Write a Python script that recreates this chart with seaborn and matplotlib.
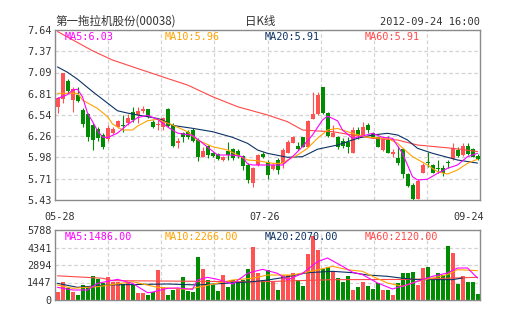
import numpy as np
import pandas as pd
import matplotlib
matplotlib.use("Agg")
import matplotlib.pyplot as plt
import matplotlib.transforms as mtransforms
import seaborn as sns

# ---------------- data ----------------
x_labels = ["05-28", "07-26", "09-24"]
x_label_pos = [0, 42, 84]

price_tick_labels = ["5.43", "5.71", "5.98", "6.26", "6.54", "6.81", "7.09", "7.37", "7.64"]
vol_tick_labels = ["0", "1447", "2894", "4341", "5788"]

opens = [6.635, 6.739, 6.977, 6.730, 6.795, 6.600, 6.548, 6.405, 6.349, 6.275,
         6.219, 6.305, 6.375, 6.405, 6.427, 6.578, 6.535, 6.587, 6.609, 6.448,
         6.405, 6.375, 6.609, 6.405, 6.167, 6.297, 6.318, 6.340, 6.210, 5.993,
         6.132, 6.045, 6.028, 5.950, 6.071, 6.089, 6.071, 6.002, 5.885, 5.655,
         5.885, 6.028, 5.928, 5.829, 5.950, 5.907, 6.045, 6.175, 6.132, 6.245,
         6.123, 6.487, 6.548, 6.895, 6.565, 6.253, 6.245, 6.201, 6.188, 6.045,
         6.340, 6.275, 6.405, 6.305, 6.245, 6.080, 6.210, 6.028, 5.972, 6.089,
         5.768, 5.625, 5.443, 5.785, 5.928, 5.885, 5.842, 5.842, 5.928, 5.959,
         6.080, 6.015, 6.132, 6.089, 6.002]
closes = [6.752, 7.077, 6.851, 6.869, 6.721, 6.418, 6.245, 6.210, 6.232, 6.123,
          6.362, 6.353, 6.461, 6.392, 6.492, 6.470, 6.591, 6.617, 6.513, 6.383,
          6.418, 6.492, 6.392, 6.132, 6.201, 6.245, 6.245, 6.201, 5.993, 6.071,
          6.015, 6.002, 5.959, 5.993, 6.015, 5.972, 6.002, 5.872, 5.690, 5.842,
          6.015, 5.993, 5.755, 5.885, 5.820, 6.080, 6.188, 6.245, 6.089, 6.123,
          6.461, 6.548, 6.795, 6.557, 6.262, 6.305, 6.123, 6.132, 6.123, 6.340,
          6.275, 6.375, 6.340, 6.245, 6.123, 6.219, 6.045, 6.058, 5.907, 5.768,
          5.612, 5.443, 5.681, 5.885, 5.907, 5.785, 5.829, 5.785, 5.907, 6.102,
          6.002, 6.132, 6.028, 5.993, 5.959]
highs = [6.773, 7.077, 6.999, 6.895, 6.903, 6.622, 6.557, 6.427, 6.383, 6.297,
         6.405, 6.375, 6.470, 6.535, 6.548, 6.643, 6.635, 6.652, 6.617, 6.470,
         6.470, 6.513, 6.622, 6.427, 6.232, 6.318, 6.340, 6.362, 6.232, 6.123,
         6.145, 6.058, 6.045, 6.002, 6.188, 6.102, 6.089, 6.015, 5.907, 5.863,
         6.028, 6.058, 5.950, 5.907, 5.972, 6.102, 6.210, 6.262, 6.188, 6.253,
         6.470, 6.838, 6.838, 6.903, 6.578, 6.405, 6.262, 6.232, 6.253, 6.383,
         6.375, 6.448, 6.435, 6.318, 6.262, 6.232, 6.262, 6.097, 6.132, 6.102,
         5.785, 5.647, 5.699, 5.907, 6.058, 5.898, 5.950, 5.885, 5.950, 6.167,
         6.123, 6.175, 6.175, 6.102, 6.028]
lows = [6.565, 6.695, 6.825, 6.578, 6.708, 6.383, 6.201, 6.080, 6.201, 6.089,
        6.201, 6.288, 6.362, 6.318, 6.405, 6.448, 6.427, 6.557, 6.492, 6.362,
        6.340, 6.340, 6.383, 6.123, 6.102, 6.188, 6.219, 6.184, 5.941, 5.985,
        5.972, 5.993, 5.950, 5.941, 5.950, 5.950, 5.972, 5.820, 5.655, 5.595,
        5.872, 5.972, 5.699, 5.820, 5.768, 5.842, 6.037, 6.167, 6.080, 6.115,
        6.115, 6.479, 6.535, 6.548, 6.245, 6.245, 6.089, 6.102, 6.037, 6.037,
        6.219, 6.262, 6.297, 6.232, 6.115, 6.071, 6.037, 5.985, 5.885, 5.712,
        5.595, 5.430, 5.443, 5.777, 5.863, 5.777, 5.785, 5.742, 5.842, 5.950,
        5.993, 6.002, 6.015, 5.985, 5.950]
volumes = [690, 1516, 965, 690, 414, 1241, 1103, 1985, 1709, 1378,
           1875, 1516, 1516, 1323, 1516, 1241, 607, 607, 414, 690,
           2481, 1047, 414, 827, 882, 1875, 772, 690, 3583, 2536,
           1654, 1241, 772, 2067, 1047, 1654, 1378, 1654, 2536, 4355,
           2260, 1654, 2481, 1516, 827, 2067, 2067, 2260, 1654, 1158,
           3804, 5292, 4134, 2536, 2701, 2426, 1792, 1516, 1985, 827,
           1047, 1516, 1158, 882, 1433, 827, 827, 414, 1433, 2260,
           2260, 2343, 1241, 2619, 2701, 1654, 2205, 2067, 4465, 3859,
           1323, 1985, 1516, 1516, 496]

# moving-average lines (day index, value)
ma5_day = [0, 2, 3, 4, 5, 6, 7, 8, 9, 10, 12, 14, 16, 18, 20, 21, 22, 24, 27, 29, 32, 35, 37, 38, 39, 42,
           45, 47, 49, 51, 53, 54, 56, 57, 59, 61, 63, 65, 67, 69, 71, 72, 74, 76, 78, 80, 82, 84]
ma5_val = [6.75, 6.80, 6.86, 6.87, 6.77, 6.56, 6.45, 6.33, 6.25, 6.24, 6.30, 6.41, 6.50, 6.53, 6.48, 6.43,
           6.38, 6.30, 6.27, 6.17, 6.015, 6.015, 5.993, 5.90, 5.885, 5.885, 5.885, 5.993, 6.123, 6.275,
           6.47, 6.52, 6.46, 6.34, 6.232, 6.262, 6.297, 6.245, 6.232, 6.037, 5.733, 5.69, 5.70, 5.777,
           5.842, 5.885, 5.993, 6.037]
ma10_day = [0, 4, 5, 8, 10, 11, 13, 15, 16, 18, 20, 23, 26, 28, 31, 34, 36, 38, 40, 43, 45, 46, 48, 50,
            52, 54, 56, 59, 62, 66, 68, 71, 74, 76, 78, 80, 82, 84]
ma10_val = [6.817, 6.817, 6.73, 6.62, 6.513, 6.418, 6.34, 6.34, 6.39, 6.46, 6.48, 6.405, 6.318, 6.21,
            6.123, 6.08, 6.015, 5.95, 5.941, 5.907, 5.907, 5.95, 6.015, 6.102, 6.232, 6.34, 6.36, 6.297,
            6.245, 6.232, 6.167, 5.993, 5.885, 5.798, 5.768, 5.82, 5.907, 5.96]
ma20_day = [0, 2, 4, 7, 10, 12, 14, 16, 20, 21, 23, 27, 31, 35, 38, 40, 42, 46, 49, 52, 56, 60, 63, 66,
            68, 70, 72, 75, 78, 80, 84]
ma20_val = [7.16, 7.09, 7.0, 6.84, 6.69, 6.59, 6.56, 6.535, 6.49, 6.47, 6.40, 6.362, 6.318, 6.245, 6.167,
            6.08, 6.037, 5.985, 5.993, 6.09, 6.145, 6.232, 6.275, 6.297, 6.275, 6.21, 6.102, 6.037, 5.985,
            5.95, 5.91]
ma60_day = [0, 7, 11, 16, 22, 26, 31, 36, 42, 46, 49, 52, 55, 59, 63, 68, 72, 79, 84]
ma60_val = [7.62, 7.37, 7.25, 7.14, 7.01, 6.925, 6.773, 6.643, 6.535, 6.448, 6.34, 6.327, 6.318, 6.275,
            6.232, 6.21, 6.145, 6.102, 6.06]

vma5_day = [0, 3, 6, 8, 12, 15, 18, 19, 22, 24, 27, 28, 30, 32, 35, 38, 41, 44, 46, 49, 52, 54, 57, 59,
            61, 64, 67, 70, 72, 75, 78, 80, 82, 84]
vma5_val = [1047, 827, 827, 1378, 1709, 1378, 607, 650, 965, 1000, 882, 1654, 1875, 1709, 1323, 2205,
            2536, 2205, 1654, 2205, 3170, 3473, 2784, 2300, 2095, 1406, 910, 1268, 1543, 1957, 2233, 2646,
            2646, 1819]
vma10_day = [0, 3, 8, 15, 20, 26, 28, 35, 39, 42, 47, 52, 55, 58, 61, 63, 66, 69, 72, 75, 78, 80, 84]
vma10_val = [1241, 965, 1103, 1516, 1047, 882, 1047, 1654, 1800, 2067, 2067, 2481, 2784, 2508, 2370,
             1957, 1406, 1130, 1543, 1819, 2095, 2508, 2425]
vma20_day = [0, 4, 10, 22, 28, 39, 42, 45, 50, 55, 59, 62, 66, 69, 72, 76, 79, 81]
vma20_val = [1378, 1047, 1241, 1323, 1241, 1516, 1650, 1847, 2260, 2370, 2260, 2067, 1957, 1800, 1681,
             1681, 1681, 1819]
vma60_day = [0, 9, 11, 24, 40, 55, 70, 84]
vma60_val = [2000, 1800, 1600, 1560, 1500, 1680, 1700, 1880]

ma_price_labels = ["MA5:6.03", "MA10:5.96", "MA20:5.91", "MA60:5.91"]
ma_vol_labels = ["MA5:1486.00", "MA10:2266.00", "MA20:2070.00", "MA60:2120.00"]
title_name = "第一拖拉机股份(00038)"
title_kind = "日K线"
title_time = "2012-09-24 16:00"

# ---------------- style ----------------
sns.set_style("white")
plt.rcParams["font.family"] = ["DejaVu Sans Mono", "Noto Sans CJK SC"]
UP = "#ff5353"
DOWN = "#008c00"
C_MA5 = "#ff00ff"
C_MA10 = "#ffa200"
C_MA20 = "#0c3265"
C_MA60 = "#ff4848"
GRID = "#d4d4d4"
SPINE = "#8a8a8a"
TXT = "#333333"
FS = 7.3
LW = 0.8

W, H = 505, 330
fig = plt.figure(figsize=(W / 100, H / 100), dpi=100)
ax = fig.add_axes([55 / W, 1 - 200 / H, 425 / W, 170 / H])
axv = fig.add_axes([55 / W, 1 - 300 / H, 425 / W, 70 / H])

n = len(closes)
days = np.arange(n)
df = pd.DataFrame({"day": days, "open": opens, "close": closes, "high": highs,
                   "low": lows, "vol": volumes})
df["up"] = df["close"] >= df["open"]
df["color"] = np.where(df["up"], UP, DOWN)

# ---------------- price panel ----------------
ymin, ymax = 5.43, 7.64
grid_x = np.linspace(-0.5, n - 0.5, 9)[1:-1]
ytick_pos = np.linspace(ymin, ymax, len(price_tick_labels))
for a in (ax, axv):
    a.set_xlim(-0.5, n - 0.5)
    for gx in grid_x:
        a.axvline(gx, color=GRID, lw=0.9, ls=(0, (3, 2)), zorder=0)
for gy in ytick_pos[1:-1]:
    ax.axhline(gy, color=GRID, lw=0.9, ls=(0, (3, 2)), zorder=0)

ax.vlines(df["day"], df["low"], df["high"], colors=df["color"], lw=LW, zorder=2)
body_bottom = np.minimum(df["open"], df["close"])
body_h = np.maximum(np.abs(df["close"] - df["open"]), 0.008)
ax.bar(df["day"], body_h, bottom=body_bottom, width=0.8, color=df["color"],
       linewidth=0, zorder=3)

for d, v, c in [(ma60_day, ma60_val, C_MA60), (ma20_day, ma20_val, C_MA20),
                (ma10_day, ma10_val, C_MA10), (ma5_day, ma5_val, C_MA5)]:
    sns.lineplot(x=d, y=v, ax=ax, color=c, lw=LW, zorder=4)

ax.set_ylim(ymin, ymax)
ax.set_yticks(ytick_pos)
ax.set_yticklabels(price_tick_labels)
ax.set_xticks(x_label_pos)
ax.set_xticklabels(x_labels)
ax.tick_params(axis="both", length=0, labelsize=FS, labelcolor=TXT)
ax.tick_params(axis="y", pad=2.5)
ax.tick_params(axis="x", pad=9)
xl = ax.get_xticklabels()
xl[-1].set_horizontalalignment("right")
xl[-1].set_transform(xl[-1].get_transform() + mtransforms.ScaledTranslation(5 / 72, 0, fig.dpi_scale_trans))
xl[0].set_transform(xl[0].get_transform() + mtransforms.ScaledTranslation(1.5 / 72, 0, fig.dpi_scale_trans))
xl[1].set_transform(xl[1].get_transform() + mtransforms.ScaledTranslation(-2 / 72, 0, fig.dpi_scale_trans))
ax.set_xlabel("")
ax.set_ylabel("")

# ---------------- volume panel ----------------
vmax = 5788
vtick_pos = np.linspace(0, vmax, len(vol_tick_labels))
for gy in vtick_pos[1:-1]:
    axv.axhline(gy, color=GRID, lw=0.9, ls=(0, (3, 2)), zorder=0)
axv.bar(df["day"], df["vol"], width=0.8, color=df["color"], linewidth=0, zorder=2)
for d, v, c in [(vma60_day, vma60_val, C_MA60), (vma20_day, vma20_val, C_MA20),
                (vma10_day, vma10_val, C_MA10), (vma5_day, vma5_val, C_MA5)]:
    sns.lineplot(x=d, y=v, ax=axv, color=c, lw=LW, zorder=4)
axv.set_ylim(0, vmax)
axv.set_yticks(vtick_pos)
axv.set_yticklabels(vol_tick_labels)
axv.set_xticks([])
axv.tick_params(axis="both", length=0, labelsize=FS, labelcolor=TXT, pad=2.5)
axv.set_xlabel("")
axv.set_ylabel("")

for a in (ax, axv):
    for s in a.spines.values():
        s.set_visible(True)
        s.set_color(SPINE)
        s.set_linewidth(1.0)

# ---------------- legends / titles ----------------
ma_colors = [C_MA5, C_MA10, C_MA20, C_MA60]
for k, (lbl, c) in enumerate(zip(ma_price_labels, ma_colors)):
    ax.annotate(lbl, xy=(k * 100 / 425, 1), xycoords="axes fraction",
                xytext=(10 * 0.72, -7 * 0.72), textcoords="offset points",
                ha="left", va="center", fontsize=FS, color=c, zorder=6)
for k, (lbl, c) in enumerate(zip(ma_vol_labels, ma_colors)):
    axv.annotate(lbl, xy=(k * 100 / 425, 1), xycoords="axes fraction",
                 xytext=(10 * 0.72, -7 * 0.72), textcoords="offset points",
                 ha="left", va="center", fontsize=FS, color=c, zorder=6)

fig.text(55 / W, 1 - 21 / H, title_name, fontsize=8.3, color=TXT, ha="left", va="center",
         family=["Noto Sans CJK SC", "DejaVu Sans"])
fig.text(245 / W, 1 - 21 / H, title_kind, fontsize=8.3, color=TXT, ha="left", va="center",
         family=["Noto Sans CJK SC", "DejaVu Sans"])
fig.text(480 / W, 1 - 22 / H, title_time, fontsize=7.5, color=TXT, ha="right", va="center",
         family=["DejaVu Sans Mono"])

fig.savefig("out.png", dpi=100, facecolor="white")
